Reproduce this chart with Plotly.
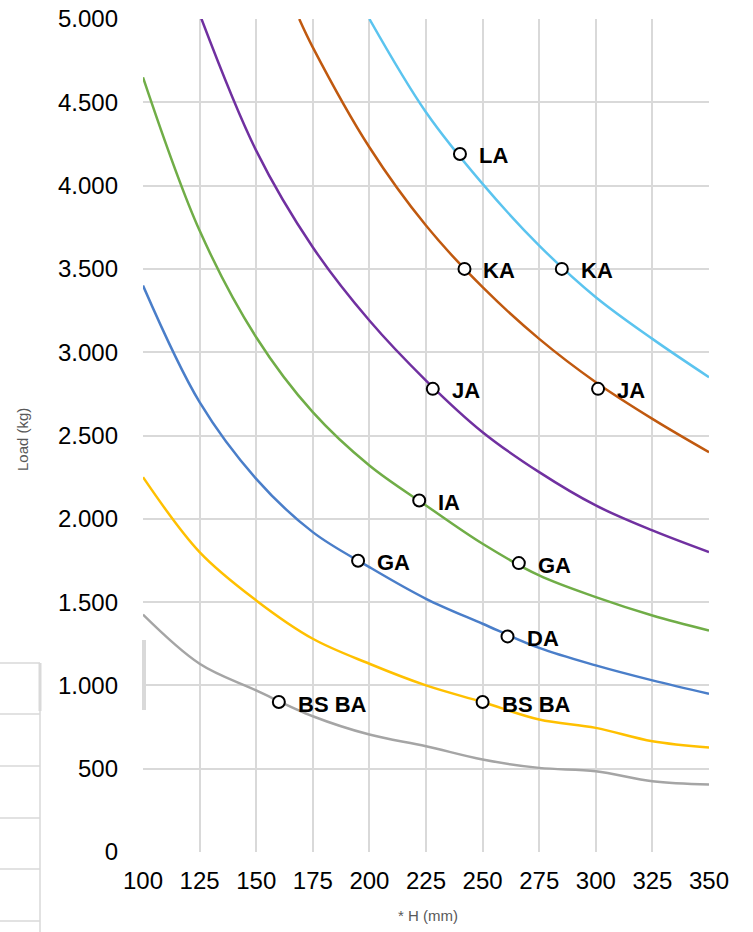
import plotly.graph_objects as go

# ---------------- data ----------------
h_mm = [100, 125, 150, 175, 200, 225, 250, 275, 300, 325, 350]

load_grey = [1425, 1130, 970, 815, 705, 635, 555, 505, 485, 425, 405]
load_yellow = [2250, 1800, 1510, 1280, 1130, 1000, 900, 795, 745, 665, 628]
load_blue = [3400, 2700, 2240, 1920, 1710, 1520, 1370, 1225, 1120, 1030, 950]
load_green = [4650, 3730, 3090, 2640, 2320, 2080, 1850, 1660, 1530, 1420, 1330]

h_purple = [125, 150, 175, 200, 225, 250, 275, 300, 325, 350]
load_purple = [5030, 4210, 3630, 3190, 2830, 2520, 2280, 2080, 1930, 1800]

h_brown = [169, 175, 200, 225, 250, 275, 300, 325, 350]
load_brown = [5000, 4830, 4230, 3760, 3390, 3080, 2820, 2600, 2400]

h_cyan = [200, 225, 250, 275, 300, 325, 350]
load_cyan = [5000, 4440, 4010, 3640, 3330, 3080, 2850]

point_h = [240, 242, 285, 228, 301, 222, 195, 266, 261, 160, 250]
point_load = [4190, 3500, 3500, 2780, 2780, 2110, 1748, 1734, 1294, 900, 900]
point_labels = ["LA", "KA", "KA", "JA", "JA", "IA", "GA", "GA", "DA", "BS BA", "BS BA"]

y_tickvals = [0, 500, 1000, 1500, 2000, 2500, 3000, 3500, 4000, 4500, 5000]
y_ticktext = ["0", "500", "1.000", "1.500", "2.000", "2.500", "3.000", "3.500", "4.000", "4.500", "5.000"]
x_tickvals = [100, 125, 150, 175, 200, 225, 250, 275, 300, 325, 350]

# ---------------- figure ----------------
W, H = 753, 932
ML, MR, MT, MB = 143, 44, 19, 80
PW, PH = W - ML - MR, H - MT - MB

def px_x(sx):
    return (sx - ML) / PW

def px_y(sy):
    return (H - MB - sy) / PH

series = [
    (h_mm, load_grey, "#A5A5A5"),
    (h_mm, load_yellow, "#FFC000"),
    (h_mm, load_blue, "#4A7EC9"),
    (h_mm, load_green, "#70AD47"),
    (h_purple, load_purple, "#7030A0"),
    (h_brown, load_brown, "#C0590F"),
    (h_cyan, load_cyan, "#5BC4EF"),
]

fig = go.Figure()
for xs, ys, col in series:
    fig.add_trace(go.Scatter(
        x=xs, y=ys, mode="lines",
        line=dict(color=col, width=2.5, shape="spline", smoothing=1.0),
        hoverinfo="skip", showlegend=False,
    ))

fig.add_trace(go.Scatter(
    x=point_h, y=point_load, mode="markers",
    marker=dict(symbol="circle", size=12, color="white",
                line=dict(color="black", width=2)),
    showlegend=False,
))

annotations = []
for hx, ly, lab in zip(point_h, point_load, point_labels):
    annotations.append(dict(
        x=hx, y=ly, xref="x", yref="y", text=lab, showarrow=False,
        xanchor="left", yanchor="middle", xshift=17, yshift=-2,
        font=dict(family="Liberation Sans, Arial, sans-serif", size=22,
                  color="black", weight="bold"),
    ))

title_font = dict(family="Liberation Sans, Arial, sans-serif", size=15, color="#595959")
annotations.append(dict(
    x=px_x(428), y=px_y(915), xref="paper", yref="paper", text="* H (mm)",
    showarrow=False, xanchor="center", yanchor="middle", font=title_font,
))
annotations.append(dict(
    x=px_x(22), y=px_y(440), xref="paper", yref="paper", text="Load (kg)",
    showarrow=False, xanchor="center", yanchor="middle", textangle=-90,
    font=title_font,
))

# decorative fragments of a neighbouring table visible in the screenshot
shapes = []
grid_col = "#d9d9d9"
for sy in [663, 714, 766, 818, 869, 921]:
    shapes.append(dict(type="line", xref="paper", yref="paper",
                       x0=px_x(0), x1=px_x(40), y0=px_y(sy), y1=px_y(sy),
                       line=dict(color=grid_col, width=1.5)))
shapes.append(dict(type="line", xref="paper", yref="paper",
                   x0=px_x(40), x1=px_x(40), y0=px_y(663), y1=px_y(932),
                   line=dict(color=grid_col, width=1.5)))
shapes.append(dict(type="rect", xref="paper", yref="paper",
                   x0=px_x(38.5), x1=px_x(41.5), y0=px_y(711), y1=px_y(663),
                   fillcolor=grid_col, line=dict(width=0)))
shapes.append(dict(type="rect", xref="paper", yref="paper",
                   x0=px_x(142), x1=px_x(146), y0=px_y(710), y1=px_y(640),
                   fillcolor=grid_col, line=dict(width=0)))

tick_font = dict(family="Liberation Sans, Arial, sans-serif", size=24, color="black")

fig.update_layout(
    width=W, height=H,
    margin=dict(l=ML, r=MR, t=MT, b=MB, autoexpand=False),
    paper_bgcolor="white", plot_bgcolor="white",
    xaxis=dict(range=[100, 350], tickvals=x_tickvals, showgrid=True,
               gridcolor=grid_col, gridwidth=1.5, zeroline=False,
               showline=False, tickfont=tick_font, ticklabelstandoff=12,
               ticklabeloverflow="allow", automargin=False, fixedrange=True),
    yaxis=dict(range=[0, 5000], tickvals=y_tickvals, ticktext=y_ticktext,
               showgrid=True, gridcolor=grid_col, gridwidth=1.5, zeroline=False,
               showline=False, tickfont=tick_font, ticklabelstandoff=24,
               ticklabeloverflow="allow", automargin=False, fixedrange=True),
    annotations=annotations,
    shapes=shapes,
    showlegend=False,
)

# remove the browser's default 8px body margin so the figure fills the window
fig.write_html("out.html", config={"displayModeBar": False},
               post_script="document.body.style.margin='0';")
